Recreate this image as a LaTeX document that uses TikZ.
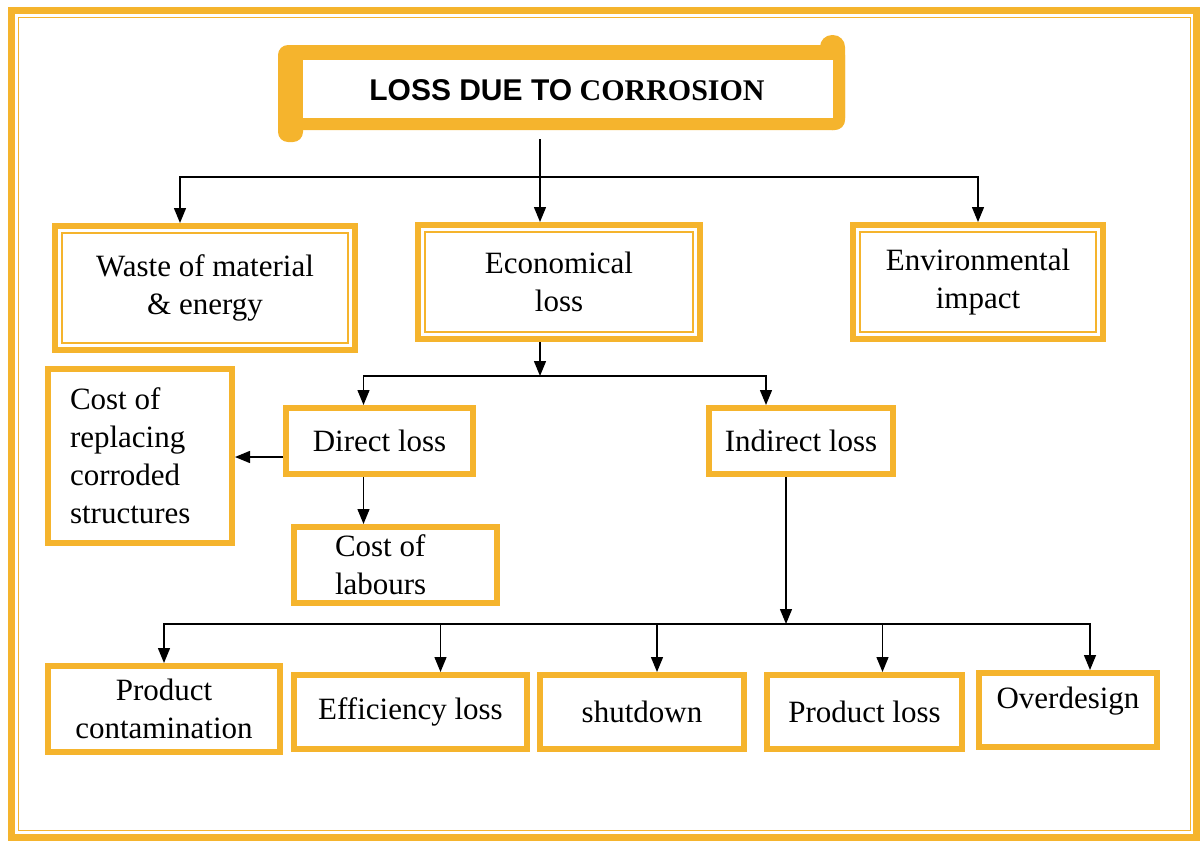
\documentclass[tikz,border=0pt]{standalone}
\usepackage{fontspec}
\setmainfont{Liberation Serif}
\newfontfamily\headsans{Liberation Sans}
\usetikzlibrary{arrows.meta}
\definecolor{gold}{RGB}{245,180,45}

\tikzset{
  box/.style={draw=gold, line width=6pt, align=center, inner sep=4pt,
    font=\fontsize{31}{38}\selectfont},
  arr/.style={line width=1.4pt, -{Triangle[width=12pt,length=15pt]}}
}

\begin{document}
\begin{tikzpicture}[x=1pt, y=-1pt]
\useasboundingbox (0,0) rectangle (1202,841);
% frame
\draw[gold, line width=7pt] (11.5,10.5) rectangle (1196.5,837);
\draw[gold, line width=1.5pt] (18.5,17.5) rectangle (1190.5,830.5);

% title scroll
\fill[gold, rounded corners=10pt] (278,47) rectangle (303,142);
\fill[gold, rounded corners=10pt] (278,45) rectangle (845,130);
\fill[gold, rounded corners=12pt] (820,35) rectangle (845,130);
\fill[white] (303,60) rectangle (833,118);
\node[font=\bfseries\fontsize{30}{36}\selectfont, minimum width=530, minimum height=58]
  (title) at (567,90) {{\headsans LOSS DUE TO} CORROSION};

% first level
\node[box, minimum width=300, minimum height=124] (waste) at (205,288) {Waste of material\\\& energy};
\node[box, minimum width=282, minimum height=114] (econ) at (559,282) {Economical\\loss};
\node[box, minimum width=250, minimum height=114] (env) at (978,282) {Environmental\\impact};
\foreach \n in {waste,econ,env}
  \draw[gold, line width=1.5pt] ([shift={(10pt,-10pt)}]\n.north west) rectangle ([shift={(-10pt,10pt)}]\n.south east);

% second level
\node[box, minimum width=187, minimum height=66] (direct) at (379.5,441) {Direct loss};
\node[box, minimum width=184, minimum height=66] (indirect) at (801,441) {Indirect loss};
\node[box, minimum height=174, inner xsep=22pt, text width=140pt, align=flush left] (replace) at (140,456)
  {Cost of\\replacing\\corroded\\structures};
\node[box, minimum height=76, inner xsep=41pt, text width=121pt, align=flush left] (labours) at (395.5,565)
  {Cost of\\labours};

% third level
\node[box, minimum width=232, minimum height=86] (contam) at (164,709) {Product\\contamination};
\node[box, minimum width=233, minimum height=74] (effic) at (410.5,712) {Efficiency loss};
\node[box, minimum width=204, minimum height=74] (shut) at (642,712) {shutdown};
\node[box, minimum width=195, minimum height=74] (ploss) at (864.5,712) {Product loss};
\node[box, minimum width=178, minimum height=74] (overd) at (1068,710) {\raisebox{24pt}{Overdesign}};

% connectors
\coordinate (top) at (540,177);
\draw[arr, shorten <=20pt] (title.south -| top) -- (top |- econ.north);
\draw[arr] (top) -| ([xshift=-25pt]waste.north);
\draw[arr] (top) -| (env.north);

\coordinate (mid) at (540,376);
\draw[arr] (econ.south -| mid) -- (mid);
\draw[arr] (mid) -| ([xshift=-16pt]direct.north);
\draw[arr] (mid) -| ([xshift=-35pt]indirect.north);

\coordinate (dl) at ([yshift=-16pt]direct.west);
\draw[arr] (dl) -- (dl -| replace.east);
\coordinate (dd) at ([xshift=-16pt]direct.south);
\draw[arr] (dd) -- (dd |- labours.north);

\coordinate (low) at (786,624);
\draw[arr] (indirect.south -| low) -- (low);
\foreach \n/\s in {contam/0, effic/30, shut/15, ploss/18, overd/22}
  \draw[arr] (low) -| ([xshift=\s pt]\n.north);
\end{tikzpicture}
\end{document}
